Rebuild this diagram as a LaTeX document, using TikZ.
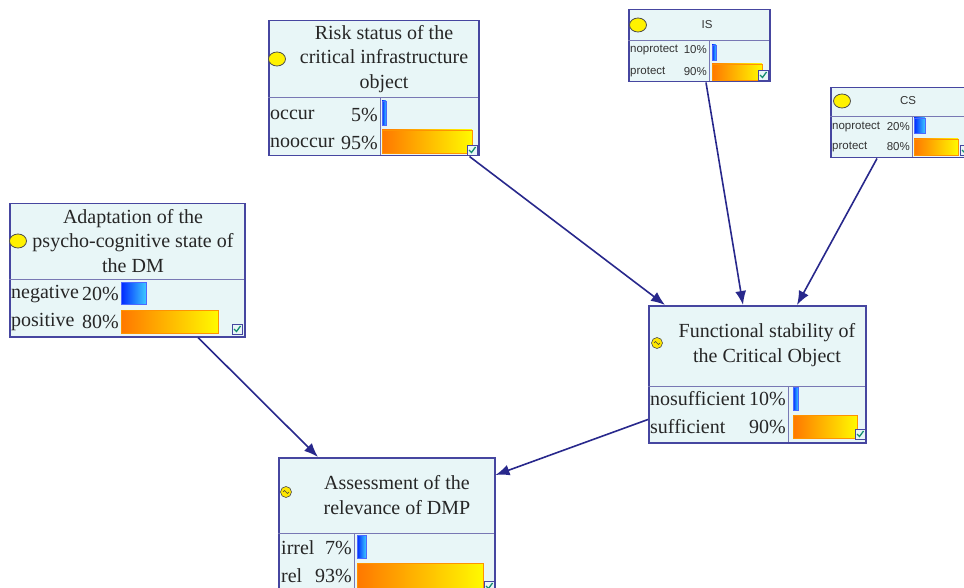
\documentclass[tikz,border=0pt]{standalone}
\usepackage{fontspec}
\setmainfont{Liberation Serif}
\newfontfamily\serff{Liberation Serif}
\newfontfamily\sansf{Liberation Sans}
\usetikzlibrary{arrows.meta,shapes.geometric}
\definecolor{boxfill}{RGB}{232,246,247}
\definecolor{boxline}{RGB}{70,70,160}
\definecolor{divline}{RGB}{120,120,180}
\definecolor{arrowc}{RGB}{40,40,140}
\definecolor{bluea}{RGB}{0,40,255}
\definecolor{blueb}{RGB}{60,200,255}
\definecolor{orna}{RGB}{255,120,0}
\definecolor{ornb}{RGB}{255,250,0}
\definecolor{chkgreen}{RGB}{20,140,110}
\tikzset{
  box/.style={draw=boxline, fill=boxfill, line width=1.5pt, anchor=north west, inner sep=0pt},
  divider/.style={draw=divline, line width=1pt},
  ttl/.style={font=\serff\fontsize{20}{24.5}\selectfont, align=center, inner sep=0pt, text=black!85},
  rowt/.style={font=\serff\fontsize{20}{24}\selectfont, inner sep=0pt, text=black!85},
  rows/.style={font=\sansf\fontsize{11.5}{13}\selectfont, inner sep=0pt, text=black!80},
  barB/.style={left color=bluea, right color=blueb, draw=bluea!70, line width=0.5pt},
  barO/.style={left color=orna, right color=ornb, draw=orna!80!yellow, line width=0.5pt},
  bulb/.style={ellipse, draw=black!70, fill=yellow, line width=0.8pt, inner sep=0pt, minimum width=17pt, minimum height=14pt},
  sbulb/.style={circle, draw=black!70, fill=yellow!90!orange, line width=0.6pt, inner sep=0pt, minimum size=11pt},
  chk/.style={draw=boxline, fill=boxfill, line width=0.8pt, minimum size=10pt, inner sep=0pt},
  conn/.style={draw=arrowc, line width=1.6pt, -{Latex[length=14pt, width=11pt]}},
}
\newcommand{\chkmark}[3]{\node[chk] (#1) at (#2,#3) {};\draw[chkgreen, line width=1.3pt] ([xshift=-3pt,yshift=0pt]#1.center) -- ([xshift=-0.5pt,yshift=-2.5pt]#1.center) -- ([xshift=3.5pt,yshift=3pt]#1.center);}
\newcommand{\squig}[1]{\draw[black!75, line width=0.5pt] ([xshift=-3pt]#1.center) .. controls ([xshift=-1.5pt,yshift=2pt]#1.center) .. (#1.center) .. controls ([xshift=1.5pt,yshift=-2pt]#1.center) .. ([xshift=3pt]#1.center);}
\begin{document}
\begin{tikzpicture}[x=1pt, y=-1pt]
\useasboundingbox (0,0) rectangle (964,588);
\clip (0,0) rectangle (964,588);
\fill[white] (0,0) rectangle (964,588);

% ---------- Risk status ----------
\node[box, minimum width=210pt, minimum height=135pt] (risk) at (268,20) {};
\draw[divider] (268,98) -- (478,98);
\draw[divider] (380,98) -- (380,155);
\node[ttl] (riskt) at (384,59) {Risk status of the\\critical infrastructure\\object};
\node[bulb] (riskb) at (277,59) {};
\node[rowt, anchor=west] (riskr1) at (270,115) {occur};
\node[rowt, anchor=east] (riskp1) at (378,115) {5\%};
\node[rowt, anchor=west] (riskr2) at (270,143) {nooccur};
\node[rowt, anchor=east] (riskp2) at (378,143) {95\%};
\fill[barB] (382,101) rectangle (386,125);
\fill[barO] (382,130) rectangle (472,153);
\chkmark{riskc}{472}{150}

% ---------- IS ----------
\node[box, minimum width=141pt, minimum height=72pt] (is) at (628,9) {};
\draw[divider] (628,41) -- (769,41);
\draw[divider] (709,41) -- (709,81);
\node[rows] (ist) at (707,25) {IS};
\node[bulb] (isb) at (638,25) {};
\node[rows, anchor=west] (isr1) at (630,50) {noprotect};
\node[rows, anchor=east] (isp1) at (707,50) {10\%};
\node[rows, anchor=west] (isr2) at (630,72) {protect};
\node[rows, anchor=east] (isp2) at (707,72) {90\%};
\fill[barB] (712,45) rectangle (716,60);
\fill[barO] (712,64) rectangle (762,80);
\chkmark{isc}{763}{75}

% ---------- CS ----------
\node[box, minimum width=134pt, minimum height=70pt] (cs) at (830,87) {};
\draw[divider] (830,117) -- (964,117);
\draw[divider] (912,117) -- (912,157);
\node[rows] (cst) at (908,101) {CS};
\node[bulb] (csb) at (842,101) {};
\node[rows, anchor=west] (csr1) at (832,127) {noprotect};
\node[rows, anchor=east] (csp1) at (910,127) {20\%};
\node[rows, anchor=west] (csr2) at (832,147) {protect};
\node[rows, anchor=east] (csp2) at (910,147) {80\%};
\fill[barB] (914,118) rectangle (925,133);
\fill[barO] (914,139) rectangle (958,155);
\chkmark{csc}{965}{150}

% ---------- Adaptation ----------
\node[box, minimum width=235pt, minimum height=133pt] (adapt) at (9,203) {};
\draw[divider] (9,279) -- (244,279);
\node[ttl] (adaptt) at (133,241) {Adaptation of the\\psycho-cognitive state of\\the DM};
\node[bulb] (adaptb) at (18,241) {};
\node[rowt, anchor=west] (adaptr1) at (11,294) {negative};
\node[rowt, anchor=east] (adaptp1) at (119,294) {20\%};
\node[rowt, anchor=west] (adaptr2) at (11,322) {positive};
\node[rowt, anchor=east] (adaptp2) at (119,322) {80\%};
\fill[barB] (121,282) rectangle (146,304);
\fill[barO] (121,310) rectangle (218,333);
\chkmark{adaptc}{237}{329}

% ---------- Functional stability ----------
\node[box, minimum width=217pt, minimum height=137pt] (func) at (648,305) {};
\draw[divider] (648,386) -- (865,386);
\draw[divider] (788,386) -- (788,442);
\node[ttl] (funct) at (767,345) {Functional stability of\\the Critical Object};
\node[sbulb] (funcb) at (657,343) {}; \squig{funcb}
\node[rowt, anchor=west] (funcr1) at (650,399) {nosufficient};
\node[rowt, anchor=east] (funcp1) at (786,399) {10\%};
\node[rowt, anchor=west] (funcr2) at (650,427) {sufficient};
\node[rowt, anchor=east] (funcp2) at (786,427) {90\%};
\fill[barB] (793,387) rectangle (798,410);
\fill[barO] (793,415) rectangle (857,438);
\chkmark{funcc}{860}{434}

% ---------- Assessment ----------
\node[box, minimum width=216pt, minimum height=143pt] (assess) at (278,457) {};
\draw[divider] (278,533) -- (494,533);
\draw[divider] (354,533) -- (354,600);
\node[ttl] (assesst) at (397,495) {Assessment of the\\relevance of DMP};
\node[sbulb] (assessb) at (286,492) {}; \squig{assessb}
\node[rowt, anchor=west] (assessr1) at (281,548) {irrel};
\node[rowt, anchor=east] (assessp1) at (352,548) {7\%};
\node[rowt, anchor=west] (assessr2) at (281,576) {rel};
\node[rowt, anchor=east] (assessp2) at (352,576) {93\%};
\fill[barB] (357,535) rectangle (366,558);
\fill[barO] (357,563) rectangle (483,590);
\chkmark{assessc}{489}{586}

% ---------- connectors ----------
\draw[conn] ([xshift=-10pt]risk.south east) -- ([xshift=17pt]func.north west);
\draw[conn] ([xshift=78pt]is.south west) -- ([xshift=95pt]func.north west);
\draw[conn] ([xshift=47pt]cs.south west) -- ([xshift=149pt]func.north west);
\draw[conn] ([xshift=189pt]adapt.south west) -- ([xshift=40pt]assess.north west);
\draw[conn] ([yshift=24pt]func.south west) -- ([yshift=-18pt]assess.north east);
\end{tikzpicture}
\end{document}
